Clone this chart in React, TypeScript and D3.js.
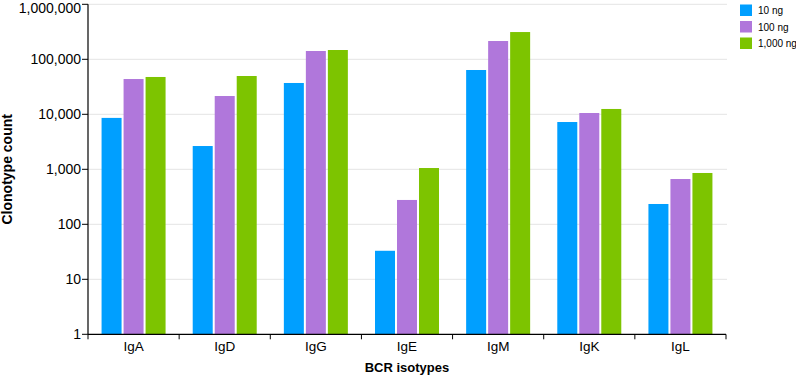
import React from "react";
import * as d3 from "d3";

const categories = ["IgA", "IgD", "IgG", "IgE", "IgM", "IgK", "IgL"];
const seriesNames = ["10 ng", "100 ng", "1,000 ng"];
const values10 = [8600, 2650, 37100, 33, 63900, 7240, 234];
const values100 = [43800, 21500, 141600, 277, 215000, 10560, 666];
const values1000 = [47700, 49700, 147600, 1055, 313000, 12500, 857];
const colors = ["#009FFF", "#B077DB", "#7DC400"];
const yTicks = [1, 10, 100, 1000, 10000, 100000, 1000000];

export default function App() {
  const W = 796, H = 375;
  const left = 88, right = 726, top = 4.3, bottom = 334.3;
  const series = [values10, values100, values1000];
  const x = d3.scaleBand<string>().domain(categories).range([left, right]).paddingInner(0).paddingOuter(0);
  const barW = 20, gap = 2;
  const groupW = barW * 3 + gap * 2;
  const y = d3.scaleLog().domain([1, 1000000]).range([bottom, top]);
  const fmt = d3.format(",");
  const font = "'Liberation Sans', Arial, Helvetica, sans-serif";
  return (
    <svg width={W} height={H} style={{ position: "absolute", left: 0, top: 0 }} fontFamily={font}>
      <rect width={W} height={H} fill="#fff" />
      {yTicks.slice(1).map((t) => (
        <line key={t} x1={left} x2={right + 1} y1={y(t)} y2={y(t)} stroke="#e4e4e4" strokeWidth={1} />
      ))}
      {categories.map((c, i) =>
        series.map((s, j) => {
          const bx = (x(c) as number) + (x.bandwidth() - groupW) / 2 + j * (barW + gap);
          return (
            <rect key={c + j} x={bx} y={y(s[i])} width={barW} height={bottom - y(s[i])} fill={colors[j]} />
          );
        })
      )}
      <line x1={left} x2={left} y1={top} y2={bottom} stroke="#000" strokeWidth={1.2} />
      <line x1={left} x2={right} y1={bottom} y2={bottom} stroke="#000" strokeWidth={1.2} />
      {yTicks.map((t) => (
        <g key={t}>
          <line x1={left - 6} x2={left} y1={y(t)} y2={y(t)} stroke="#000" strokeWidth={1} />
          <text x={left - 7} y={Math.max(y(t), 8)} dy="0.35em" textAnchor="end" fontSize={14} fill="#000">
            {fmt(t)}
          </text>
        </g>
      ))}
      {categories.map((c) => (
        <g key={c}>
          <line x1={x(c) as number} x2={x(c) as number} y1={bottom} y2={bottom + 5} stroke="#000" strokeWidth={1} />
          <text x={(x(c) as number) + x.bandwidth() / 2} y={bottom + 17} textAnchor="middle" fontSize={13.5} fill="#000">
            {c}
          </text>
        </g>
      ))}
      <line x1={right} x2={right} y1={bottom} y2={bottom + 5} stroke="#000" strokeWidth={1} />
      <text x={(left + right) / 2} y={372} textAnchor="middle" fontSize={13} fontWeight="bold" fill="#000">
        BCR isotypes
      </text>
      <text transform={`translate(12,${(top + bottom) / 2}) rotate(-90)`} textAnchor="middle" fontSize={14} fontWeight="bold" fill="#000">
        Clonotype count
      </text>
      {seriesNames.map((n, j) => (
        <g key={n} transform={`translate(740,${4.5 + j * 16.5})`}>
          <rect width={12} height={11.5} fill={colors[j]} />
          <text x={18} y={6} dy="0.35em" fontSize={10} fill="#000">
            {n}
          </text>
        </g>
      ))}
    </svg>
  );
}
